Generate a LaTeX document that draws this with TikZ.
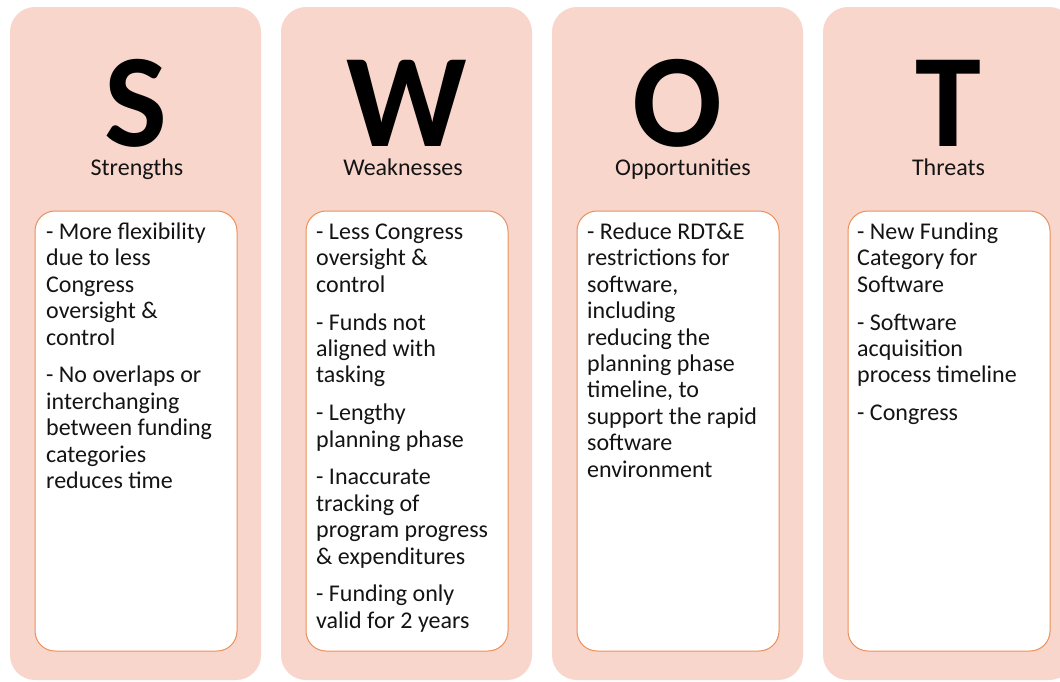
\documentclass[tikz,border=0pt]{standalone}
\usepackage{fontspec}
\setmainfont{Carlito}
\definecolor{swotbg}{HTML}{F8D6CC}
\definecolor{swotedge}{HTML}{EC9058}
\definecolor{swottxt}{HTML}{141414}
\newcommand\swotlist[1]{\parbox[t]{230pt}{\raggedright\parindent=0pt\parskip=11.4pt\baselineskip=26.4pt #1}}
\begin{document}
\begin{tikzpicture}[x=1pt,y=-1pt,
  outerbox/.style={fill=swotbg, draw=none, rounded corners=25pt},
  innerbox/.style={fill=white, draw=swotedge, line width=1pt, rounded corners=20pt},
  letter/.style={anchor=base, inner sep=0pt, text depth=0pt, font=\fontsize{133}{133}\selectfont\bfseries, text=black},
  subtitle/.style={anchor=base, inner sep=0pt, font=\fontsize{24}{28}\selectfont, text=swottxt},
  body/.style={anchor=base west, inner sep=0pt, font=\fontsize{24}{26.4}\selectfont, text=swottxt}]
\useasboundingbox (0,0) rectangle (1060,681);
\clip (0,0) rectangle (1060,681);
\fill[white] (0,0) rectangle (1060,681);
% column boxes
\path[outerbox] (10,7) rectangle (261,680);
\path[outerbox] (281,7) rectangle (532,680);
\path[outerbox] (552,7) rectangle (803,680);
\path[outerbox] (823,7) rectangle (1074,680);
\path[innerbox] (35,211) rectangle (237,651);
\path[innerbox] (306,211) rectangle (508,651);
\path[innerbox] (577,211) rectangle (779,651);
\path[innerbox] (848,211) rectangle (1050,651);
% letters
\node[letter] (ls) at (136,146) {S};
\node[letter] (lw) at (406.5,146) {W};
\node[letter] (lo) at (677.5,146) {O};
\node[letter] (lt) at (948,146) {T};
% subtitles
\node[subtitle] (ss) at (137,175.5) {Strengths};
\node[subtitle] (sw) at (403,175.5) {Weaknesses};
\node[subtitle] (so) at (683,175.5) {Opportunities};
\node[subtitle] (st) at (948.5,175.5) {Threats};
% bodies
\node[body] (bs) at (46,239.5) {\swotlist{- More flexibility\\due to less\\Congress\\oversight \&\\control\par
- No overlaps or\\interchanging\\between funding\\categories\\reduces time}};
\node[body] (bw) at (316,239.5) {\swotlist{- Less Congress\\oversight \&\\control\par
- Funds not\\aligned with\\tasking\par
- Lengthy\\planning phase\par
- Inaccurate\\tracking of\\program progress\\\& expenditures\par
- Funding only\\valid for 2 years}};
\node[body] (bo) at (587,239.5) {\swotlist{- Reduce RDT\&E\\restrictions for\\software,\\including\\reducing the\\planning phase\\timeline, to\\support the rapid\\software\\environment}};
\node[body] (bt) at (857,239.5) {\swotlist{- New Funding\\Category for\\Software\par
- Software\\acquisition\\process timeline\par
- Congress}};
\end{tikzpicture}
\end{document}
